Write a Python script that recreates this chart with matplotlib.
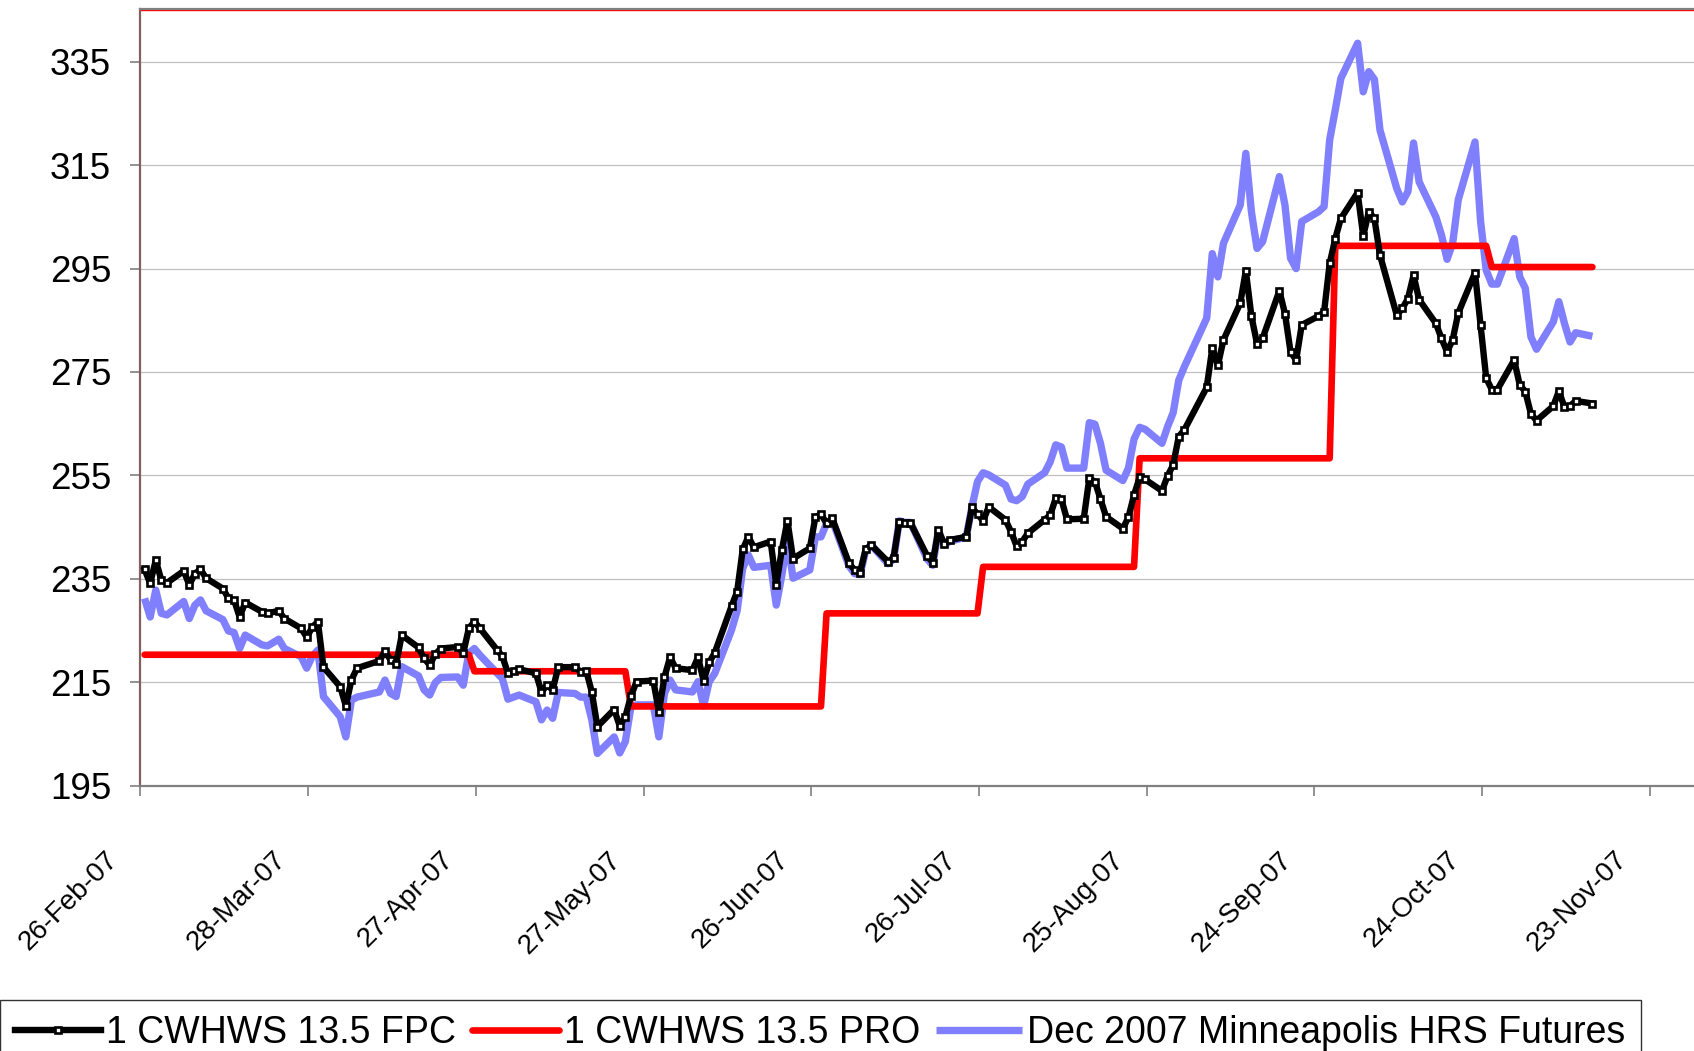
import matplotlib
matplotlib.use('Agg')
import matplotlib.pyplot as plt
from matplotlib.transforms import ScaledTranslation
import numpy as np

plt.rcParams['font.family'] = ['Liberation Sans', 'DejaVu Sans']

# trading days counted from 26-Feb-07
days = [0, 1, 2, 3, 4, 7, 8, 9, 10, 11, 14, 15, 16, 17, 18, 21, 22, 24, 25,
        28, 29, 30, 31, 32, 35, 36, 37, 38, 42, 43, 44, 45, 46,
        49, 50, 51, 52, 53, 56, 57, 58, 59, 60, 63, 64, 65, 66, 67,
        70, 71, 72, 73, 74, 77, 78, 79, 80, 81, 84, 85, 86, 87, 88,
        91, 92, 93, 94, 95, 98, 99, 100, 101, 102, 105, 106, 107, 108, 109,
        112, 113, 114, 115, 116, 119, 120, 121, 122, 123, 126, 127, 128, 129, 130,
        133, 134, 135, 136, 137, 140, 141, 142, 143, 144, 147, 148, 149, 150, 151,
        154, 155, 156, 157, 158, 161, 162, 163, 164, 165, 168, 169, 170, 171, 172,
        175, 176, 177, 178, 179, 182, 183, 184, 185, 186, 190, 191, 192, 193,
        196, 197, 198, 199, 200, 203, 204, 205, 206, 207, 210, 211, 212, 213, 214,
        217, 218, 219, 220, 221, 224, 225, 226, 227, 228, 231, 232, 233, 234, 235,
        238, 239, 240, 241, 242, 245, 246, 247, 248, 249, 252, 253, 254, 255, 256,
        259]

fpc = [236.8, 234.1, 238.6, 234.7, 234.2, 236.5, 233.8, 236.0, 236.8, 235.1,
       233.1, 231.2, 230.9, 227.6, 230.4, 228.6, 228.3, 228.8, 227.3,
       225.4, 223.7, 225.6, 226.7, 217.9, 214.1, 210.4, 215.4, 217.7,
       219.1, 221.0, 219.3, 218.5, 224.1, 221.7, 219.6, 218.3, 220.4, 221.5,
       221.8, 220.6, 225.4, 226.7, 225.4, 221.3, 220.0, 216.7, 217.2, 217.5,
       216.7, 213.1, 214.4, 213.5, 217.9, 217.9, 217.0, 217.2, 213.1, 206.4,
       209.7, 206.5, 208.3, 212.3, 215.1, 215.3, 209.3, 216.0, 219.8, 217.7,
       217.3, 219.8, 215.3, 218.8, 220.7, 229.7, 232.5, 240.7, 243.1, 241.1,
       242.2, 233.8, 240.6, 246.2, 238.9, 240.9, 246.9, 247.5, 245.7, 246.7,
       238.0, 236.7, 236.2, 240.7, 241.5, 238.3, 239.1, 246.0, 245.8, 245.8,
       239.4, 238.1, 244.4, 241.8, 242.5, 243.1, 248.8, 247.5, 246.2, 248.9,
       246.4, 244.1, 241.3, 242.2, 243.8, 246.4, 247.3, 250.6, 250.4, 246.5,
       246.6, 254.4, 253.8, 250.4, 247.0, 244.7, 246.9, 251.2, 254.6, 254.2,
       252.0, 254.9, 257.0, 262.5, 263.8, 272.0, 279.6, 276.3, 281.2,
       288.3, 294.6, 285.8, 280.5, 281.5, 290.7, 286.3, 278.9, 277.3, 284.1,
       285.8, 286.6, 296.0, 300.8, 304.7, 309.7, 301.3, 306.0, 304.7, 297.6,
       286.0, 287.3, 289.2, 293.7, 289.0, 284.4, 281.5, 278.9, 281.2, 286.4,
       294.2, 284.1, 273.8, 271.6, 271.6, 277.3, 272.5, 271.2, 266.9, 265.6,
       268.4, 271.3, 268.2, 268.4, 269.4, 268.9]

hrs_futures = [231.2, 227.6, 232.8, 228.3, 228.0, 230.6, 227.3, 229.9, 230.9, 228.8,
               227.1, 224.9, 224.6, 221.5, 224.1, 222.2, 222.0, 223.3, 221.5,
               219.9, 217.7, 220.0, 221.2, 212.2, 208.3, 204.4, 211.5, 212.1,
               213.1, 215.4, 212.8, 212.2, 218.0, 216.2, 213.5, 212.5, 214.9, 215.9,
               216.0, 214.4, 220.6, 221.5, 220.2, 216.8, 215.7, 211.7, 212.1, 212.5,
               211.2, 207.7, 209.6, 208.0, 213.0, 212.8, 212.1, 212.1, 207.7, 201.2,
               204.4, 201.3, 203.5, 210.2, 210.6, 210.6, 204.4, 212.8, 215.4, 213.5,
               213.1, 215.1, 210.4, 215.1, 216.7, 225.1, 228.8, 237.0, 239.6, 237.2,
               237.6, 229.9, 235.7, 242.6, 235.1, 236.7, 243.1, 243.1, 245.7, 246.4,
               237.5, 236.0, 235.8, 240.5, 241.5, 237.9, 238.8, 246.2, 245.9, 245.9,
               238.8, 237.6, 244.4, 241.5, 242.2, 243.1, 248.9, 253.8, 255.5, 255.1,
               253.1, 250.4, 250.1, 250.9, 253.3, 255.5, 257.6, 260.9, 260.5, 256.4,
               256.4, 265.2, 264.9, 261.2, 256.0, 254.0, 256.4, 262.0, 264.3, 263.9,
               261.2, 264.4, 267.1, 273.4, 276.0, 285.4, 297.9, 293.4, 299.9,
               307.3, 317.3, 306.0, 298.9, 300.2, 312.8, 307.3, 297.0, 295.0, 304.1,
               306.0, 307.0, 319.9, 325.7, 331.8, 338.6, 329.2, 333.1, 331.6, 321.8,
               310.5, 307.9, 309.9, 319.3, 311.8, 305.0, 301.5, 296.8, 299.9, 308.3,
               319.5, 304.1, 294.7, 292.0, 292.0, 300.8, 293.4, 291.2, 281.8, 279.4,
               284.7, 288.6, 284.4, 280.8, 282.6, 281.9]

# PRO price changes only a few times: first trading day of each level
pro_start_days = [0, 59, 87, 122, 150, 178, 213, 241]
pro_levels = [220.3, 217.1, 210.3, 228.3, 237.3, 258.3, 299.4, 295.3]

tick_days = [0, 30, 60, 90, 120, 150, 180, 210, 240, 270]
tick_labels = ['26-Feb-07', '28-Mar-07', '27-Apr-07', '27-May-07', '26-Jun-07',
               '26-Jul-07', '25-Aug-07', '24-Sep-07', '24-Oct-07', '23-Nov-07']
y_ticks = [195, 215, 235, 255, 275, 295, 315, 335]

pro = [pro_levels[np.searchsorted(pro_start_days, d, side='right') - 1] for d in days]
x = np.array(days) + 0.75

W, H = 1694, 1051
fig = plt.figure(figsize=(W / 100, H / 100), dpi=100)
ax = fig.add_axes([140.4 / W, 1 - 785.5 / H, (1716 - 140.4) / W, (785.5 - 8.6) / H])

l3, = ax.plot(x, hrs_futures, color='#8080FF', lw=5.3, solid_joinstyle='round',
              solid_capstyle='butt', zorder=3)
l2, = ax.plot(x, pro, color='#FF0000', lw=4.8, solid_joinstyle='round',
              solid_capstyle='round', zorder=4)
l1, = ax.plot(x, fpc, color='black', lw=4.6, marker='s', ms=4.5, mfc='white',
              mec='black', mew=1.9, solid_joinstyle='round', zorder=5)

ax.set_xlim(0, (1716 - 140.4) / 5.59)
ax.set_ylim(195, 345.3)
ax.set_yticks(y_ticks)
ax.set_xticks(tick_days)
ax.set_xticklabels(tick_labels, rotation=45, ha='right', va='top', fontsize=20)
ax.tick_params(axis='y', labelsize=26.5, length=7, width=1.2, color='#808080',
               pad=14, direction='out')
ax.tick_params(axis='x', length=7, width=1.2, color='#808080', pad=37, direction='out')
offset = ScaledTranslation(-17 / 100, 0, fig.dpi_scale_trans)
for lab in ax.get_xticklabels():
    lab.set_transform(lab.get_transform() + offset)

ax.yaxis.grid(True, color='#C0C0C0', lw=0.9)
ax.set_axisbelow(True)
for side in ['left', 'bottom', 'top']:
    ax.spines[side].set_color('#808080')
    ax.spines[side].set_linewidth(1.6)
ax.spines['left'].set_color('#806060')
ax.spines['right'].set_visible(False)
ax.axhline(344.95, color='#FF0000', lw=1.0, zorder=2)

leg = fig.legend([l1, l2, l3],
                 ['1 CWHWS 13.5 FPC', '1 CWHWS 13.5 PRO', 'Dec 2007 Minneapolis HRS Futures'],
                 loc='upper left', bbox_to_anchor=(0, 1 - 1000 / H), ncol=3,
                 fontsize=27, frameon=True, fancybox=False, borderpad=0.4,
                 handlelength=2.3, handletextpad=0.14, columnspacing=0.42,
                 borderaxespad=0, numpoints=1)
leg.get_frame().set_edgecolor('black')
leg.get_frame().set_linewidth(1.0)

fig.savefig('out.png', dpi=100)
